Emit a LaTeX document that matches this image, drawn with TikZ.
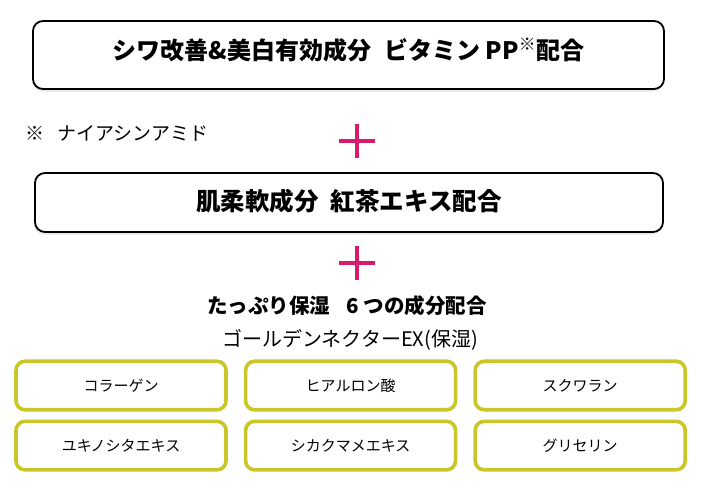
\documentclass[tikz,border=0pt]{standalone}
\usepackage{fontspec}
\setmainfont{Noto Sans CJK JP}
\usetikzlibrary{positioning,shadows}
\definecolor{plusmagenta}{HTML}{D81B6A}
\definecolor{boxolive}{HTML}{C9C62A}
\tikzset{
  mainbox/.style={
    draw=black,
    rounded corners=10pt,
    fill=white,
    line width=1.8pt,
    drop shadow={opacity=0.18,shadow xshift=-1pt,shadow yshift=-2.5pt},
    align=center
  },
  headtext/.style={
    font=\bfseries\fontsize{24}{27}\selectfont,
    inner sep=0pt
  },
  ingredient/.style={
    draw=boxolive,
    rounded corners=9pt,
    fill=white,
    line width=3.6pt,
    minimum width=210pt,
    minimum height=48.5pt,
    font=\fontsize{15}{18}\selectfont
  },
  plusbar/.style={
    draw=plusmagenta,
    line width=3.8pt
  }
}

\begin{document}
\begin{tikzpicture}[x=1pt,y=-1pt,node distance=8pt and 16pt]
    \useasboundingbox (0,0) rectangle (702,488);
    % two main boxes
    \node[mainbox, minimum width=631pt, minimum height=68pt] (vitbox) at (348.5,55) {};
    \node[headtext] (vittext) at ([yshift=5pt]vitbox.center) {シワ改善\&美白有効成分\hspace{0.55em}ビタミン PP\textsuperscript{※}配合};
    \node[anchor=west, font=\fontsize{19}{22}\selectfont, inner sep=0pt] (note) at (25,133) {※\hspace{0.7em}ナイアシンアミド};
    \node[mainbox, minimum width=628pt, minimum height=59pt] (teabox) at (349,202.5) {};
    \node[headtext, font=\bfseries\fontsize{24.5}{27}\selectfont] (teatext) at ([yshift=1.5pt]teabox.center) {肌柔軟成分\hspace{0.5em}紅茶エキス配合};
    % plus signs
    \coordinate (plusA) at (357,141);
    \coordinate (plusB) at (357,263);
    \foreach \p in {plusA,plusB}
      \draw[plusbar] ([xshift=-18pt]\p) -- ([xshift=18pt]\p)
                     ([yshift=17pt]\p) -- ([yshift=-17pt]\p);
    % six moisture ingredients
    \node[font=\bfseries\fontsize{20.5}{23}\selectfont] (moist) at (347,306) {たっぷり保湿\hspace{0.8em}6 つの成分配合};
    \node[font=\fontsize{20}{23}\selectfont] (nectar) at (350,340) {ゴールデンネクターEX(保湿)};
    \node[ingredient] (collagen) at (121,385.5) {コラーゲン};
    \node[ingredient, right=of collagen] (hyaluron) {ヒアルロン酸};
    \node[ingredient, right=of hyaluron] (squalane) {スクワラン};
    \node[ingredient, below=of collagen] (yukinoshita) {ユキノシタエキス};
    \node[ingredient, right=of yukinoshita] (cica) {シカクマメエキス};
    \node[ingredient, right=of cica] (glycerin) {グリセリン};
\end{tikzpicture}
\end{document}
